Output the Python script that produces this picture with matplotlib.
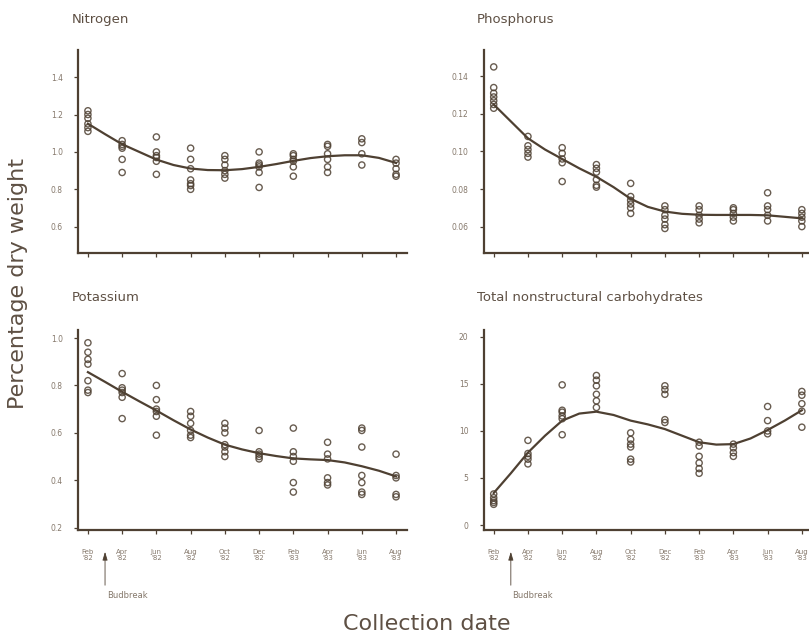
import numpy as np
import matplotlib
matplotlib.use("Agg")
import matplotlib.pyplot as plt
from matplotlib.transforms import blended_transform_factory

plt.rcParams["font.family"] = ["DejaVu Sans"]

# 採取日
dates = ["Feb\n'82", "Apr\n'82", "Jun\n'82", "Aug\n'82", "Oct\n'82",
         "Dec\n'82", "Feb\n'83", "Apr\n'83", "Jun\n'83", "Aug\n'83"]

# 平滑曲線の読み取り位置（採取日インデックス）
curve_x = [0, 0.5, 1, 1.5, 2, 2.5, 3, 3.5, 4, 4.5, 5, 5.5, 6, 6.5, 7, 7.5, 8, 8.5, 9]

nitrogen = [
    [1.22, 1.20, 1.18, 1.15, 1.13, 1.11],
    [1.06, 1.04, 1.03, 1.02, 0.96, 0.89],
    [1.08, 1.00, 0.98, 0.97, 0.95, 0.88],
    [1.02, 0.96, 0.91, 0.85, 0.83, 0.82, 0.80],
    [0.98, 0.96, 0.93, 0.90, 0.88, 0.86],
    [1.00, 0.94, 0.93, 0.92, 0.89, 0.81],
    [0.99, 0.98, 0.96, 0.95, 0.92, 0.87],
    [1.04, 1.03, 0.99, 0.96, 0.92, 0.89],
    [1.07, 1.05, 0.99, 0.93],
    [0.96, 0.94, 0.91, 0.88, 0.87],
]
nitrogen_curve = [1.151, 1.095, 1.041, 1.0, 0.959, 0.93, 0.911, 0.903, 0.902, 0.908,
                  0.92, 0.935, 0.952, 0.967, 0.977, 0.982, 0.982, 0.968, 0.941]

phosphorus = [
    [0.145, 0.134, 0.131, 0.129, 0.127, 0.125, 0.123],
    [0.108, 0.103, 0.101, 0.099, 0.097],
    [0.102, 0.099, 0.096, 0.094, 0.084],
    [0.093, 0.091, 0.089, 0.085, 0.082, 0.081],
    [0.083, 0.076, 0.074, 0.072, 0.070, 0.067],
    [0.071, 0.069, 0.066, 0.064, 0.061, 0.059],
    [0.071, 0.069, 0.066, 0.064, 0.062],
    [0.070, 0.069, 0.067, 0.065, 0.063],
    [0.078, 0.071, 0.069, 0.066, 0.063],
    [0.069, 0.067, 0.065, 0.063, 0.060],
]
phosphorus_curve = [0.125, 0.116, 0.107, 0.101, 0.096, 0.091, 0.0865, 0.081, 0.0748, 0.0705,
                    0.0680, 0.0668, 0.0663, 0.0662, 0.0662, 0.0662, 0.0660, 0.0652, 0.0644]

potassium = [
    [0.98, 0.94, 0.91, 0.89, 0.82, 0.78, 0.77],
    [0.85, 0.79, 0.78, 0.77, 0.75, 0.66],
    [0.80, 0.74, 0.70, 0.69, 0.67, 0.59],
    [0.69, 0.67, 0.64, 0.61, 0.59, 0.58],
    [0.64, 0.62, 0.60, 0.55, 0.54, 0.52, 0.50],
    [0.61, 0.52, 0.51, 0.50, 0.49],
    [0.62, 0.52, 0.50, 0.48, 0.39, 0.35],
    [0.56, 0.51, 0.49, 0.41, 0.39, 0.38],
    [0.62, 0.61, 0.54, 0.42, 0.39, 0.35, 0.34],
    [0.51, 0.42, 0.41, 0.34, 0.33],
]
potassium_curve = [0.856, 0.815, 0.773, 0.733, 0.694, 0.653, 0.614, 0.58, 0.55, 0.53,
                   0.514, 0.502, 0.492, 0.488, 0.485, 0.475, 0.459, 0.44, 0.416]

carbohydrates = [
    [3.3, 2.9, 2.6, 2.4, 2.2],
    [9.0, 7.6, 7.3, 7.0, 6.5],
    [14.9, 12.2, 12.0, 11.6, 11.3, 9.6],
    [15.9, 15.4, 14.8, 13.9, 13.2, 12.5],
    [9.8, 9.1, 8.6, 8.3, 7.0, 6.7],
    [14.8, 14.4, 13.9, 11.2, 10.9],
    [8.8, 8.4, 7.3, 6.6, 6.0, 5.5],
    [8.6, 8.2, 7.7, 7.3],
    [12.6, 11.1, 10.0, 9.7],
    [14.2, 13.8, 12.9, 12.1, 10.4],
]
carbohydrates_curve = [3.4, 5.5, 7.7, 9.5, 11.1, 11.85, 12.05, 11.7, 11.1, 10.7,
                       10.2, 9.5, 8.8, 8.55, 8.6, 9.2, 10.1, 11.1, 12.2]

ink = "#4e4032"
text_col = "#5e5044"
tick_col = "#85786b"

fig = plt.figure(figsize=(8.09, 6.37), dpi=100)

# パネルの設定: タイトル, 標本, 曲線, y範囲, y目盛, 目盛ラベル, 位置
panels = [
    ("Nitrogen", nitrogen, nitrogen_curve, (0.46, 1.545),
     [0.6, 0.8, 1.0, 1.2, 1.4], "{:.1f}", [0.0964, 0.603, 0.4067, 0.3185], False),
    ("Phosphorus", phosphorus, phosphorus_curve, (0.046, 0.154),
     [0.06, 0.08, 0.10, 0.12, 0.14], "{:.2f}", [0.598, 0.603, 0.4067, 0.3185], False),
    ("Potassium", potassium, potassium_curve, (0.19, 1.034),
     [0.2, 0.4, 0.6, 0.8, 1.0], "{:.1f}", [0.0964, 0.168, 0.4067, 0.314], True),
    ("Total nonstructural carbohydrates", carbohydrates, carbohydrates_curve, (-0.53, 20.74),
     [0, 5, 10, 15, 20], "{:.0f}", [0.598, 0.168, 0.4067, 0.314], True),
]

for title, samples, curve, ylim, yticks, fmt, pos, bottom in panels:
    ax = fig.add_axes(pos)
    for i, vals in enumerate(samples):
        ax.scatter([i] * len(vals), vals, s=20, facecolors="none",
                   edgecolors=ink, linewidths=1.0, alpha=0.85, zorder=3)
    ax.plot(curve_x, curve, color=ink, lw=1.6, zorder=4)

    ax.set_xlim(-0.29, 9.32)
    ax.set_ylim(*ylim)
    ax.set_yticks(yticks)
    ax.set_yticklabels([fmt.format(v) for v in yticks])
    ax.set_xticks(range(len(dates)))
    if bottom:
        ax.set_xticklabels(dates, linespacing=1.0)
    else:
        ax.set_xticklabels([])

    for side in ["top", "right"]:
        ax.spines[side].set_visible(False)
    for side in ["left", "bottom"]:
        ax.spines[side].set_color(ink)
        ax.spines[side].set_linewidth(1.6)
    ax.tick_params(axis="y", length=3, width=0.9, color=ink, pad=8,
                   labelsize=5.5, labelcolor=tick_col)
    ax.tick_params(axis="x", length=3, width=0.9, color=ink, pad=11,
                   labelsize=5, labelcolor=tick_col)

    ax.text(-0.02, 1.16 if bottom else 1.148, title, transform=ax.transAxes,
            fontsize=9.5, color=text_col, ha="left", va="center")

    if bottom:
        trans = blended_transform_factory(ax.transData, ax.transAxes)
        ax.annotate("", xy=(0.5, -0.095), xycoords=trans,
                    xytext=(0.5, -0.29), textcoords=trans,
                    arrowprops=dict(arrowstyle="-|>,head_width=0.15,head_length=0.5",
                                    color=ink, lw=0.6), annotation_clip=False)
        ax.text(0.55, -0.33, "Budbreak", transform=trans, fontsize=6,
                color=tick_col, ha="left", va="center")

fig.text(0.022, 0.555, "Percentage dry weight", rotation=90, fontsize=16,
         color=text_col, ha="center", va="center")
fig.text(0.528, 0.02, "Collection date", fontsize=16, color=text_col,
         ha="center", va="center")

fig.savefig("out.png", dpi=100)
